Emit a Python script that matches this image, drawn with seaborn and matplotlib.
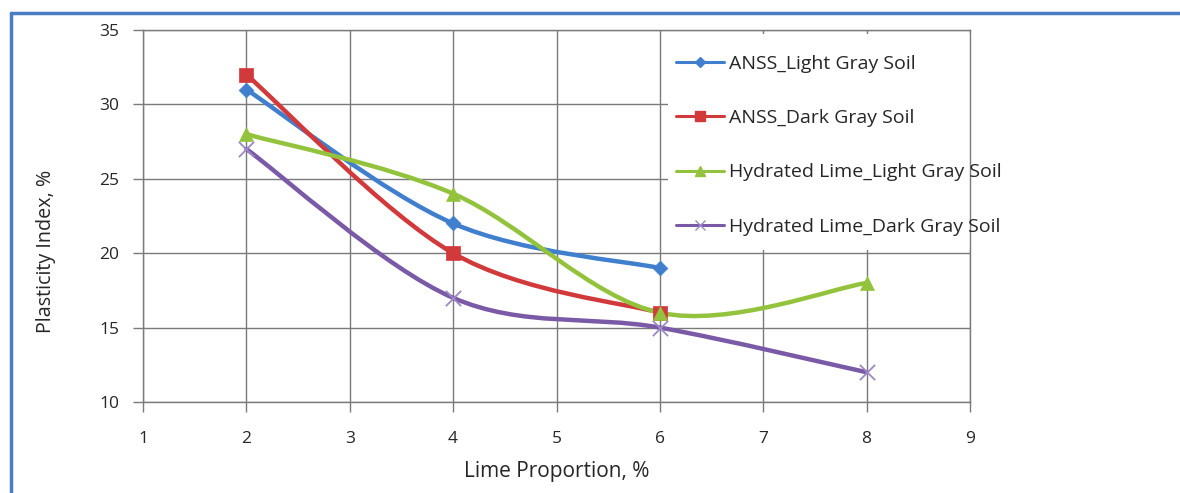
import numpy as np
import matplotlib
matplotlib.use("Agg")
import matplotlib.pyplot as plt
from matplotlib.path import Path
from matplotlib.patches import PathPatch, Rectangle
from matplotlib.lines import Line2D
import seaborn as sns

# Lime proportion (%) and plasticity index (%) per treatment
x_short = [2, 4, 6]
x_long = [2, 4, 6, 8]
anss_light = [31, 22, 19]
anss_dark = [32, 20, 16]
lime_light = [28, 24, 16, 18]
lime_dark = [27, 17, 15, 12]

labels = [
    "ANSS_Light Gray Soil",
    "ANSS_Dark Gray Soil",
    "Hydrated Lime_Light Gray Soil",
    "Hydrated Lime_Dark Gray Soil",
]
x_ticks = [1, 2, 3, 4, 5, 6, 7, 8, 9]
y_ticks = [10, 15, 20, 25, 30, 35]

colors = ["#3f7fce", "#d2393b", "#93c33c", "#7a5aa6"]
markers = ["D", "s", "^", "x"]
marker_sizes = [7.5, 10.5, 10, 11]
cross_color = "#9c88c4"
text_color = "#262626"
grid_color = "#7a7a7a"

sns.set_theme(style="white")
plt.rcParams["font.family"] = ["Open Sans", "DejaVu Sans"]


def smooth_path(xs, ys):
    """Cubic Bezier path through the points (Catmull-Rom style smoothing)."""
    pts = np.column_stack([xs, ys]).astype(float)
    n = len(pts)
    verts = [pts[0]]
    codes = [Path.MOVETO]
    for i in range(n - 1):
        p0 = pts[i - 1] if i > 0 else pts[i]
        p1, p2 = pts[i], pts[i + 1]
        p3 = pts[i + 2] if i + 2 < n else pts[i + 1]
        c1 = p1 + (p2 - p0) / 6.0
        c2 = p2 - (p3 - p1) / 6.0
        verts += [c1, c2, p2]
        codes += [Path.CURVE4] * 3
    return Path(verts, codes)


W, H = 1180, 493
fig = plt.figure(figsize=(W / 100, H / 100), dpi=100)
ax = fig.add_axes([143 / W, 1 - 402 / H, (970 - 143) / W, (402 - 30) / H])

series = [
    (x_short, anss_light),
    (x_short, anss_dark),
    (x_long, lime_light),
    (x_long, lime_dark),
]

for (xs, ys), c, m, ms in zip(series, colors, markers, marker_sizes):
    patch = PathPatch(smooth_path(xs, ys), facecolor="none", edgecolor=c,
                      lw=3.2, transform=ax.transData, zorder=3,
                      capstyle="round", joinstyle="round")
    ax.add_patch(patch)
    if m == "x":
        sns.scatterplot(x=xs, y=ys, ax=ax, marker="x", s=ms ** 2, color=cross_color,
                        linewidth=1.3, zorder=4, legend=False)
    else:
        sns.scatterplot(x=xs, y=ys, ax=ax, marker=m, s=ms ** 2, color=c,
                        edgecolor=c, linewidth=0.5, zorder=4, legend=False)

ax.set_xlim(1, 9)
ax.set_ylim(10, 35)
ax.set_xticks(x_ticks)
ax.set_yticks(y_ticks)
ax.set_axisbelow(True)
ax.grid(True, color=grid_color, lw=1.0)
for s in ax.spines.values():
    s.set_color(grid_color)
    s.set_linewidth(1.0)
ax.tick_params(axis="both", which="both", direction="out", length=7, width=1.0,
               color=grid_color, labelsize=12.5, labelcolor=text_color,
               bottom=True, left=True)
ax.tick_params(axis="x", pad=14)
ax.tick_params(axis="y", pad=10)

ax.set_xlabel("Lime Proportion, %", fontsize=15, color=text_color, labelpad=10)
ax.set_ylabel("Plasticity Index, %", fontsize=14.2, color=text_color)
ax.yaxis.set_label_coords((56 - 143) / 827, (402 - 251) / 372)

# white panel behind the legend, hiding the grid there
bg = Rectangle((668 / W, 1 - 250 / H), (1040 - 668) / W, (250 - 34) / H,
               transform=fig.transFigure, facecolor="white", edgecolor="none",
               zorder=1)
ax.add_artist(bg)
bg.set_clip_on(False)

handles = [
    Line2D([], [], color=c, lw=2.2, marker=m, markersize=ms * 0.7,
           markeredgecolor=(c if m != "x" else cross_color),
           markerfacecolor=c, markeredgewidth=1.0)
    for c, m, ms in zip(colors, markers, marker_sizes)
]
leg = ax.legend(handles, labels, loc="upper left",
                bbox_to_anchor=(676 / W, 1 - 55 / H),
                bbox_transform=fig.transFigure, frameon=False, fontsize=14,
                labelspacing=1.86, handlelength=2.45, handletextpad=0.3,
                borderpad=0, borderaxespad=0, labelcolor=text_color)
leg.set_zorder(10)

# figure frame (left and top edges)
frame_color = "#4a7cc4"
fig.add_artist(Line2D([11 / W, 11 / W], [0, 1 - 13 / H],
                      transform=fig.transFigure, color=frame_color, lw=2.5))
fig.add_artist(Line2D([11 / W, 1], [1 - 13 / H, 1 - 13 / H],
                      transform=fig.transFigure, color=frame_color, lw=2.5))

fig.savefig("out.png", dpi=100)
